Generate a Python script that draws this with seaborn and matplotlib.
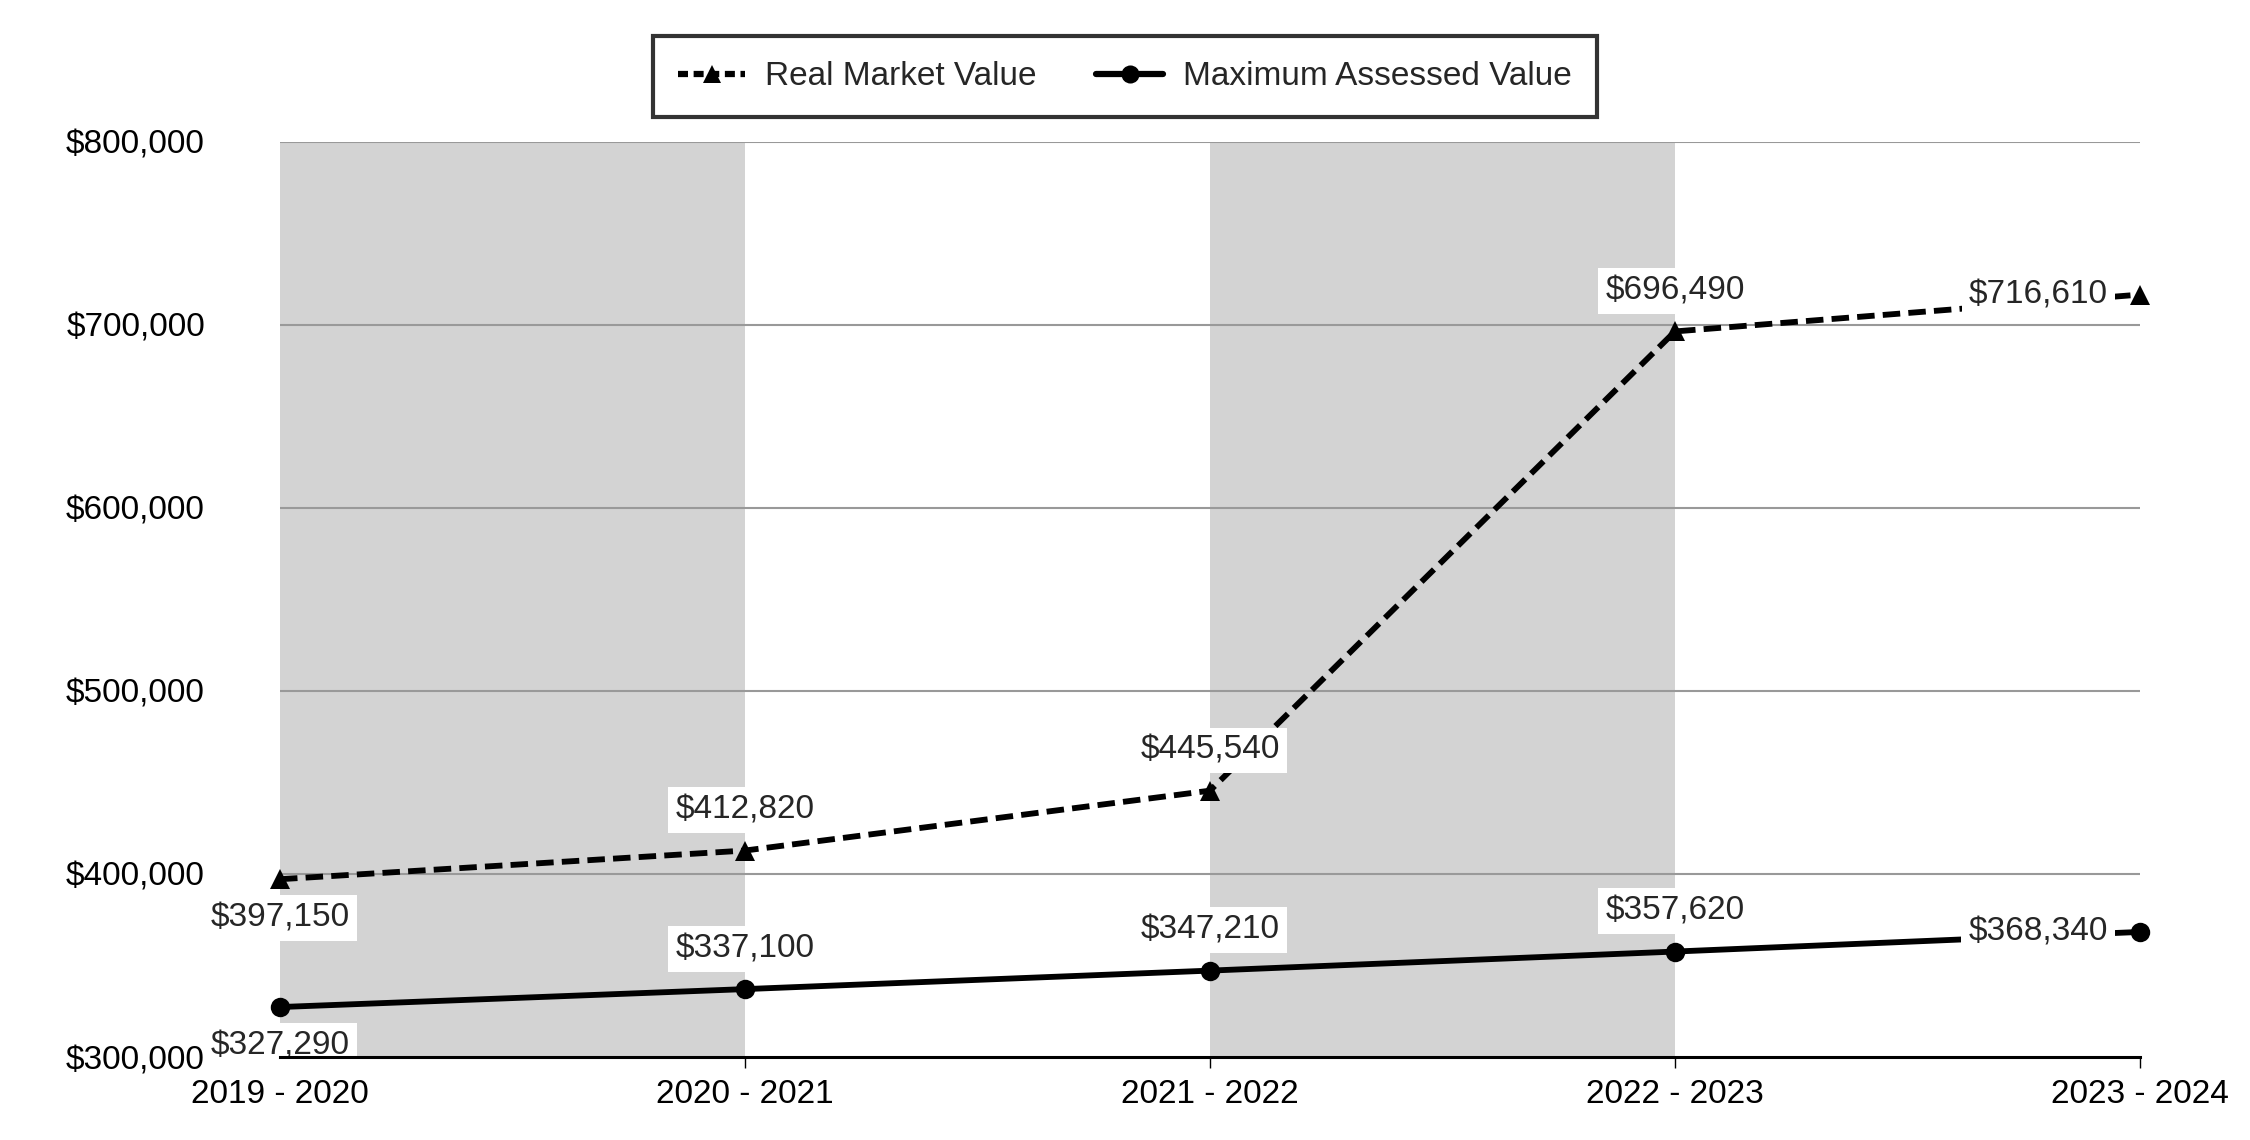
import matplotlib
matplotlib.use("Agg")
import matplotlib.pyplot as plt
from matplotlib.lines import Line2D
import seaborn as sns
import pandas as pd

years = ["2019 - 2020", "2020 - 2021", "2021 - 2022", "2022 - 2023", "2023 - 2024"]
real_market = [397150, 412820, 445540, 696490, 716610]
max_assessed = [327290, 337100, 347210, 357620, 368340]
y_ticks = [300000, 400000, 500000, 600000, 700000, 800000]

RMV = "Real Market Value"
MAV = "Maximum Assessed Value"

df = pd.DataFrame({
    "pos": list(range(len(years))) * 2,
    "value": real_market + max_assessed,
    "series": [RMV] * len(years) + [MAV] * len(years),
})

sns.set_style("white")
plt.rcParams["font.family"] = ["Liberation Sans", "DejaVu Sans"]

FS = 24

fig = plt.figure(figsize=(22.5, 11.4), dpi=100)
ax = fig.add_axes([280 / 2250, 1 - 1057 / 1140, (2140 - 280) / 2250, (1057 - 142) / 1140])

# alternating shaded bands
for i in range(0, len(years) - 1, 2):
    ax.axvspan(i, i + 1, color="#d3d3d3", zorder=0, lw=0)

ax.set_ylim(y_ticks[0], y_ticks[-1])
ax.set_xlim(0, len(years) - 1)
ax.set_yticks(y_ticks)
ax.set_yticklabels([f"${v:,.0f}" for v in y_ticks])
ax.set_xticks(range(len(years)))
ax.set_xticklabels(years)

for v in y_ticks[1:]:
    ax.axhline(v, color="#999999", lw=1.5, zorder=1)

sns.lineplot(
    data=df, x="pos", y="value", hue="series", style="series",
    palette={RMV: "black", MAV: "black"},
    markers={RMV: "^", MAV: "o"},
    dashes={RMV: (3, 1.4), MAV: ""},
    markersize=14, linewidth=4.2, markeredgewidth=0,
    ax=ax, legend=False, zorder=3, clip_on=False,
)

ax.set_xlabel("")
ax.set_ylabel("")

for s in ["left", "right", "top"]:
    ax.spines[s].set_visible(False)
ax.spines["bottom"].set_color("black")
ax.spines["bottom"].set_linewidth(2.2)
ax.spines["bottom"].set_zorder(6)

ax.tick_params(axis="y", length=0, pad=54, labelsize=FS, colors="black")
ax.tick_params(axis="x", length=8, width=1, direction="out", pad=8,
               labelsize=FS, colors="black", bottom=True)

box = dict(boxstyle="square,pad=0.22", fc="white", ec="none")
rmv_place = ["below", "above", "above", "above", "left"]
mav_place = ["below", "above", "above", "above", "left"]
offsets = {"above": ((0, 29), "center"), "below": ((0, -28), "center"),
           "left": ((-23, 0), "right")}
for vals, places in [(real_market, rmv_place), (max_assessed, mav_place)]:
    for i, (v, p) in enumerate(zip(vals, places)):
        off, ha = offsets[p]
        ax.annotate(f"${v:,.0f}", (i, v), xytext=off, textcoords="offset points",
                    ha=ha, va="center", fontsize=FS, bbox=box, zorder=5,
                    annotation_clip=False)

handles = [
    Line2D([], [], color="black", lw=4.5, dashes=(1.6, 0.9), marker="^", markersize=13, markeredgewidth=0),
    Line2D([], [], color="black", lw=4.5, marker="o", markersize=13, markeredgewidth=0),
]
leg = fig.legend(handles, [RMV, MAV], loc="upper center", bbox_to_anchor=(0.5, 0.968),
                 ncol=2, fontsize=FS, frameon=True, fancybox=False, edgecolor="black",
                 handlelength=2, handletextpad=0.6, columnspacing=1.8, borderpad=0.75,
                 borderaxespad=0)
leg.get_frame().set_linewidth(3)

fig.savefig("out.png", dpi=100)
